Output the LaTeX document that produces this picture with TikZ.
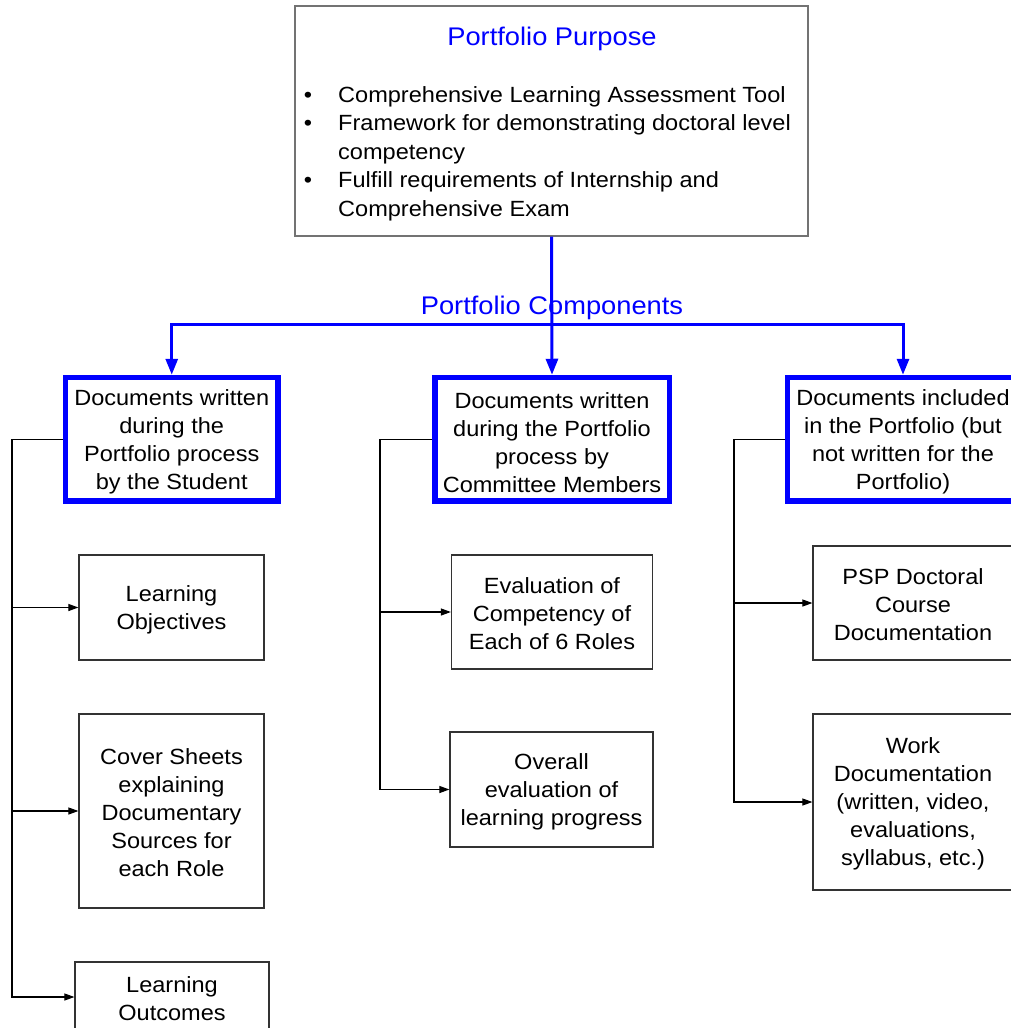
\documentclass[tikz,border=0pt]{standalone}
\usepackage{fontspec}
\setmainfont[FakeStretch=1.07]{Liberation Sans}
\usetikzlibrary{arrows.meta}
\definecolor{pblue}{RGB}{0,0,255}
\newcommand{\cstr}{\rule{0pt}{22pt}}
\newcommand{\istr}{\rule{0pt}{20pt}}
\begin{document}
\begin{tikzpicture}[x=1pt,y=-1pt,
  txt/.style={font=\fontsize{22}{28}\selectfont, align=center, inner sep=0pt},
  bigtxt/.style={font=\fontsize{25.5}{30}\selectfont, text=pblue, inner sep=0pt},
  purposebox/.style={draw=black!55, line width=1.3pt, minimum width=513pt, minimum height=230pt, inner sep=0pt},
  compbox/.style={txt, draw=pblue, line width=5.5pt, minimum height=123.5pt},
  itembox/.style={txt, draw=black!80, line width=1.2pt},
  conn/.style={draw=black, line width=1.1pt},
  arr/.style={conn, -{Triangle[width=7pt,length=10pt]}},
  bline/.style={draw=pblue, line width=3pt},
  barr/.style={bline, -{Triangle[width=12pt,length=16pt]}}
]
\useasboundingbox (0,0) rectangle (1011,1028);

% purpose box
\node[purposebox] (P) at (551.5,121) {};
\node[bigtxt, anchor=base] (PT) at (552,45) {Portfolio Purpose};
\node[txt, anchor=base] (D1) at (308,102) {\textbullet};
\node[txt, anchor=base west] (B1) at (338,102) {Comprehensive Learning Assessment Tool};
\node[txt, anchor=base] (D2) at (308,130.5) {\textbullet};
\node[txt, anchor=base west] (B2) at (338,130.5) {Framework for demonstrating doctoral level};
\node[txt, anchor=base west] (B2b) at (338,159) {competency};
\node[txt, anchor=base] (D3) at (308,187.5) {\textbullet};
\node[txt, anchor=base west] (B3) at (338,187.5) {Fulfill requirements of Internship and};
\node[txt, anchor=base west] (B3b) at (338,216) {Comprehensive Exam};

% components label and bus
\node[bigtxt, anchor=base] (PC) at (552,314) {Portfolio Components};
\coordinate (bus) at (552,324);

% component boxes
\node[compbox, minimum width=212.5pt] (L) at (171.75,439.25) {\cstr Documents written\\during the\\Portfolio process\\by the Student};
\node[compbox, minimum width=234.5pt] (M) at (552,439.25) {\cstr Documents written\\during the Portfolio\\process by\\Committee Members};
\node[compbox, minimum width=231pt] (R) at (903,439.25) {\cstr Documents included\\in the Portfolio (but\\not written for the\\Portfolio)};

% item boxes
\node[itembox, minimum width=185pt, minimum height=105pt] (LO) at (171.5,607.5) {\istr Learning\\Objectives};
\node[itembox, minimum width=185pt, minimum height=194pt] (CS) at (171.5,811) {\istr Cover Sheets\\explaining\\Documentary\\Sources for\\each Role};
\node[itembox, minimum width=194pt, minimum height=70pt] (LU) at (172,997) {\istr Learning\\Outcomes};
\node[itembox, minimum width=201pt, minimum height=114pt] (EC) at (552,612) {\istr Evaluation of\\Competency of\\Each of 6 Roles};
\node[itembox, minimum width=203pt, minimum height=115pt] (OE) at (551.5,789.5) {\istr Overall\\evaluation of\\learning progress};
\node[itembox, minimum width=200pt, minimum height=114pt] (PS) at (913,603) {\istr PSP Doctoral\\Course\\Documentation};
\node[itembox, minimum width=200pt, minimum height=176pt] (WD) at (913,802) {\istr Work\\Documentation\\(written, video,\\evaluations,\\syllabus, etc.)};

% blue connectors
\draw[bline, line cap=rect] (bus -| L.north) -- (bus -| R.north);
\draw[barr] (bus -| L.north) -- (L.north);
\draw[barr] (bus -| R.north) -- (R.north);
\draw[barr] (P.south) -- (M.north);

% black connectors
\coordinate (tL) at (12,439);
\coordinate (tM) at (380,439);
\coordinate (tR) at (734,439);
\draw[arr] (L.west) -| (tL |- LU.west) -- (LU.west);
\draw[arr] (tL |- LO.west) -- (LO.west);
\draw[arr] (tL |- CS.west) -- (CS.west);
\draw[arr] (M.west) -| (tM |- OE.west) -- (OE.west);
\draw[arr] (tM |- EC.west) -- (EC.west);
\draw[arr] (R.west) -| (tR |- WD.west) -- (WD.west);
\draw[arr] (tR |- PS.west) -- (PS.west);
\end{tikzpicture}
\end{document}
